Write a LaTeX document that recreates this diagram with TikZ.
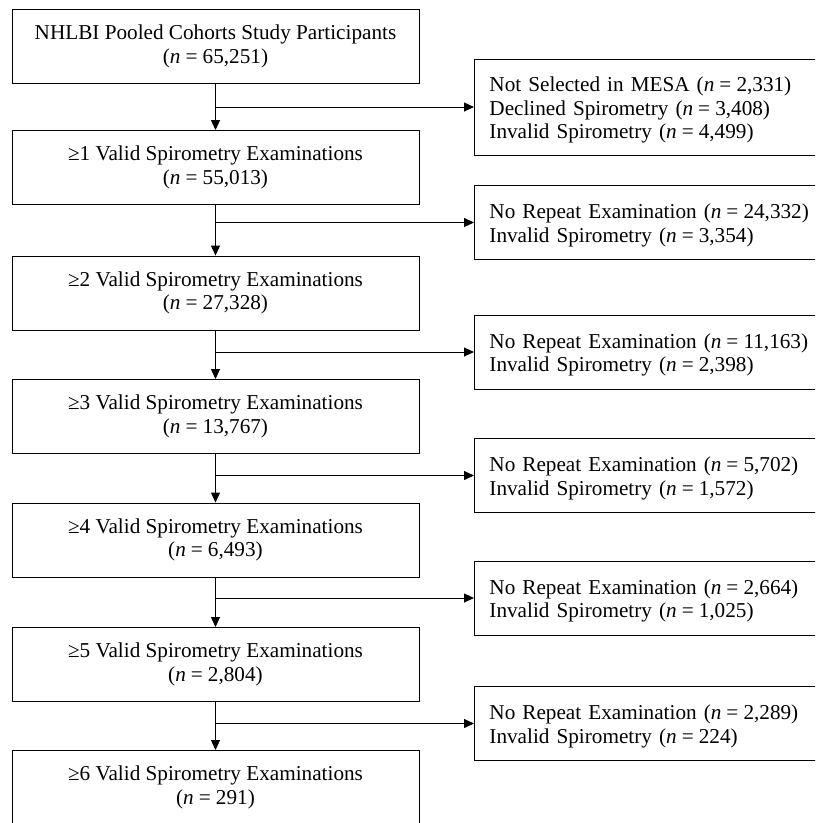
\documentclass[tikz,border=0pt]{standalone}
\usepackage{fontspec}
\setmainfont{Liberation Serif}
\usetikzlibrary{arrows.meta}
\newcommand{\nval}[1]{(\textit{n}\hspace{0.24em}=\hspace{0.24em}#1)}
\tikzset{
    stage/.style={draw, line width=0.9pt, minimum width=407pt, minimum height=74pt, align=center, inner sep=0pt, execute at begin node={\rule{0pt}{22pt}}},
    excl/.style={draw, line width=0.9pt, anchor=west, text width=370pt, align=left, inner xsep=15pt, inner ysep=0pt, execute at begin node={\rule{0pt}{21pt}}},
    flow/.style={line width=0.9pt, -{Triangle[length=10pt,width=9pt]}}
}
\begin{document}
\begin{tikzpicture}[x=1pt, y=-1pt, font=\fontsize{21.2}{23.5}\selectfont]
    \useasboundingbox (0,0) rectangle (815,823);
    \clip (0,0) rectangle (815,823);
    % main stages
    \node[stage] (s0) at (215.5,46.5) {NHLBI Pooled Cohorts Study Participants\\ \nval{65,251}};
    \node[stage] (s1) at (215.5,167.5) {≥1 Valid Spirometry Examinations\\ \nval{55,013}};
    \node[stage] (s2) at (215.5,293) {≥2 Valid Spirometry Examinations\\ \nval{27,328}};
    \node[stage] (s3) at (215.5,416.5) {≥3 Valid Spirometry Examinations\\ \nval{13,767}};
    \node[stage] (s4) at (215.5,540) {≥4 Valid Spirometry Examinations\\ \nval{6,493}};
    \node[stage] (s5) at (215.5,664.5) {≥5 Valid Spirometry Examinations\\ \nval{2,804}};
    \node[stage] (s6) at (215.5,787.5) {≥6 Valid Spirometry Examinations\\ \nval{291}};
    % exclusions
    \node[excl, minimum height=96pt] (x1) at (474,107) {Not Selected in MESA \nval{2,331}\\ Declined Spirometry \nval{3,408}\\ Invalid Spirometry \nval{4,499}};
    \node[excl, minimum height=74pt] (x2) at (474,222.5) {No Repeat Examination \nval{24,332}\\ Invalid Spirometry \nval{3,354}};
    \node[excl, minimum height=74pt] (x3) at (474,352) {No Repeat Examination \nval{11,163}\\ Invalid Spirometry \nval{2,398}};
    \node[excl, minimum height=74pt] (x4) at (474,475.5) {No Repeat Examination \nval{5,702}\\ Invalid Spirometry \nval{1,572}};
    \node[excl, minimum height=74pt] (x5) at (474,598) {No Repeat Examination \nval{2,664}\\ Invalid Spirometry \nval{1,025}};
    \node[excl, minimum height=74pt] (x6) at (474,723.5) {No Repeat Examination \nval{2,289}\\ Invalid Spirometry \nval{224}};
    % connectors
    \draw[flow] (s0) -- (s1);
    \draw[flow] (s1) -- (s2);
    \draw[flow] (s2) -- (s3);
    \draw[flow] (s3) -- (s4);
    \draw[flow] (s4) -- (s5);
    \draw[flow] (s5) -- (s6);
    \draw[flow] (s0.south |- x1.west) -- (x1.west);
    \draw[flow] (s1.south |- x2.west) -- (x2.west);
    \draw[flow] (s2.south |- x3.west) -- (x3.west);
    \draw[flow] (s3.south |- x4.west) -- (x4.west);
    \draw[flow] (s4.south |- x5.west) -- (x5.west);
    \draw[flow] (s5.south |- x6.west) -- (x6.west);
\end{tikzpicture}
\end{document}
